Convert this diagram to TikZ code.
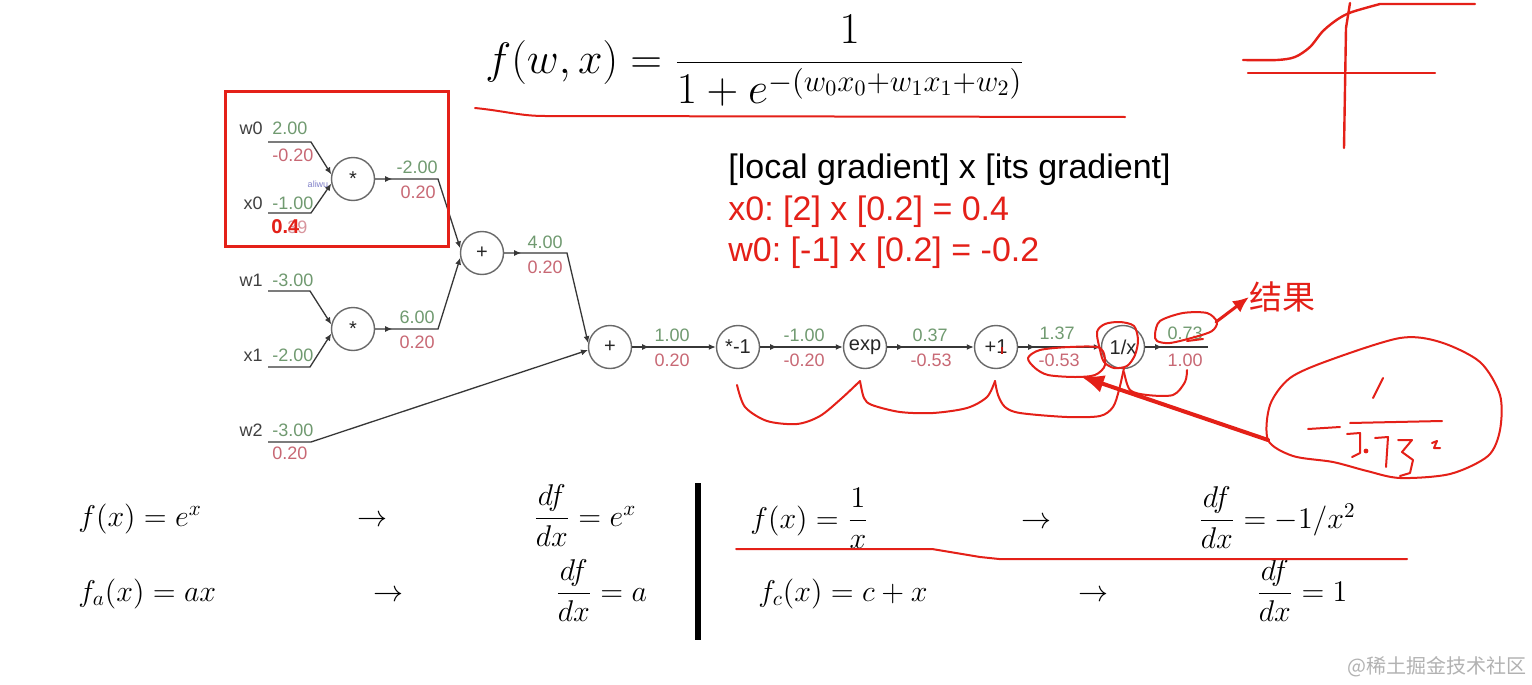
\RequirePackage{fix-cm}
\documentclass[tikz,border=0pt]{standalone}
\usepackage{amsmath}
\usepackage{fontspec}
\setsansfont{Liberation Sans}
\newfontfamily\cjkfont{Noto Sans CJK SC}
\usetikzlibrary{arrows.meta,positioning,decorations.markings}
\frenchspacing
\definecolor{valgreen}{RGB}{112,154,112}
\definecolor{gradred}{RGB}{200,104,116}
\definecolor{penred}{RGB}{228,32,24}
\definecolor{wiregray}{RGB}{55,55,55}
\definecolor{ringgray}{RGB}{105,105,105}
\tikzset{
  >={Latex[length=3.5pt,width=3pt]},
  opnode/.style={circle,draw=ringgray,line width=0.7pt,minimum size=21.5pt,
    inner sep=0pt,font=\sffamily\fontsize{10}{12}\selectfont,text=black!85},
  wire/.style={->,draw=wiregray,line width=0.65pt},
  fwire/.style={wire,postaction={decorate},decoration={markings,
    mark=at position 8.5pt with {\arrow{Latex[length=3.5pt,width=3pt]}}}},
  varlbl/.style={anchor=east,inner sep=0pt,text=black!75,
    font=\sffamily\fontsize{9}{11}\selectfont},
  vallbl/.style={anchor=west,inner sep=0pt,text=valgreen,
    font=\sffamily\fontsize{9}{11}\selectfont},
  gradlbl/.style={anchor=west,inner sep=0pt,text=gradred,
    font=\sffamily\fontsize{9}{11}\selectfont},
  notelbl/.style={anchor=west,inner sep=0pt,font=\sffamily\fontsize{17}{21}\selectfont},
  mathlbl/.style={anchor=base west,inner sep=0pt,font=\fontsize{15}{18}\selectfont},
  pen/.style={draw=penred,line width=1pt,line cap=round,line join=round},
}

\begin{document}
\begin{tikzpicture}[x=0.5pt,y=-0.5pt]
  \fill[white] (0,0) rectangle (1532,685);
  \useasboundingbox (0,0) rectangle (1532,685);

  % sigmoid formula
  \node[anchor=west,inner sep=0pt,font=\fontsize{22}{26}\selectfont] (sigm) at (485,61)
    {$f(w,x)=\dfrac{1}{1+e^{-(w_0x_0+w_1x_1+w_2)}}$};
  \draw[pen] (475,108) .. controls (505,111) and (520,116) .. (545,116) -- (1125,117);

  % sketch of the sigmoid
  \draw[pen,line width=1.2pt] plot[smooth] coordinates {(1243,60) (1277,60) (1295,57)
    (1310,47) (1323,31) (1338,19) (1352,12) (1380,4)} -- (1475,4);
  \draw[pen,line width=1.2pt] (1248,73) -- (1435,73);
  \draw[pen,line width=1.2pt] (1350,3) -- (1346,28) -- (1344,148);

  % operation nodes
  \node[opnode] (mul0) at (353,179) {*};
  \node[opnode] (mul1) at (353,329) {*};
  \node[opnode] (add0) at (482,253) {+};
  \node[opnode] (add1) at (610,347) {+};
  \node[opnode] (neg)  at (738,347) {*-1};
  \node[opnode] (expn) at (865,347) {exp};
  \node[opnode] (inc)  at (996,347) {+1};
  \node[opnode] (inv)  at (1123,347) {1/x};
  \fill[penred!85!black] (1000.5,347) rectangle (1002.5,354);

  % input stubs and corners
  \coordinate (w0s) at (268,142); \coordinate (w0c) at (311,142);
  \coordinate (x0s) at (268,213); \coordinate (x0c) at (311,213);
  \coordinate (w1s) at (268,291); \coordinate (w1c) at (310,291);
  \coordinate (x1s) at (268,367); \coordinate (x1c) at (310,367);
  \coordinate (w2s) at (268,442); \coordinate (w2c) at (311,442);
  \coordinate (m0c) at (438,179);
  \coordinate (m1c) at (438,329);
  \coordinate (a0c) at (567,253);
  \coordinate (outc) at (1208,347);

  \draw[wire] (w0s) -- (w0c) -- (mul0.168);
  \draw[wire] (x0s) -- (x0c) -- (mul0.192);
  \draw[wire] (w1s) -- (w1c) -- (mul1.168);
  \draw[wire] (x1s) -- (x1c) -- (mul1.192);
  \draw[wire] (w2s) -- (w2c) -- (add1.188);
  \draw[fwire] (mul0) -- (m0c) -- (add0.168);
  \draw[fwire] (mul1) -- (m1c) -- (add0.192);
  \draw[fwire] (add0) -- (a0c) -- (add1.170);
  \draw[fwire] (add1) -- (neg);
  \draw[fwire] (neg) -- (expn);
  \draw[fwire] (expn) -- (inc);
  \draw[fwire] (inc) -- (inv);
  \draw[fwire,-] (inv) -- (outc);

  % inputs
  \node[varlbl] (w0n) at (263,128) {w0};
  \node[vallbl] (w0v) at (272,128) {2.00};
  \node[gradlbl] (w0g) at (272,155) {-0.20};
  \node[varlbl] (x0n) at (263,203) {x0};
  \node[vallbl] (x0v) at (272,203) {-1.00};
  \node[gradlbl,opacity=0.7] (x0g) at (272,227) {0.39};
  \node[gradlbl,text=penred,font=\sffamily\bfseries\fontsize{10}{12}\selectfont]
    (x0fix) at (271,227) {0.4};
  \node[text=blue!40!gray!70,inner sep=0pt,font=\sffamily\fontsize{4.5}{5}\selectfont]
    (aliw) at (318,184) {aliwu};
  \node[varlbl] (w1n) at (263,280) {w1};
  \node[vallbl] (w1v) at (272,280) {-3.00};
  \node[varlbl] (x1n) at (263,355) {x1};
  \node[vallbl] (x1v) at (272,355) {-2.00};
  \node[varlbl] (w2n) at (263,430) {w2};
  \node[vallbl] (w2v) at (272,430) {-3.00};
  \node[gradlbl] (w2g) at (272,453) {0.20};

  % values on the wires
  \node[vallbl,anchor=east] (m0v) at (438,167) {-2.00};
  \node[gradlbl,anchor=east] (m0g) at (436,192) {0.20};
  \node[vallbl,anchor=east] (m1v) at (435,317) {6.00};
  \node[gradlbl,anchor=east] (m1g) at (435,342) {0.20};
  \node[vallbl,anchor=east] (a0v) at (563,242) {4.00};
  \node[gradlbl,anchor=east] (a0g) at (563,267) {0.20};
  \node[vallbl,anchor=east] (a1v) at (690,335) {1.00};
  \node[gradlbl,anchor=east] (a1g) at (690,360) {0.20};
  \node[vallbl,anchor=east] (ngv) at (825,335) {-1.00};
  \node[gradlbl,anchor=east] (ngg) at (825,360) {-0.20};
  \node[vallbl,anchor=east] (exv) at (948,335) {0.37};
  \node[gradlbl,anchor=east] (exg) at (952,360) {-0.53};
  \node[vallbl,anchor=east] (icv) at (1075,333) {1.37};
  \node[gradlbl,anchor=east] (icg) at (1080,360) {-0.53};
  \node[vallbl,anchor=east] (ivv) at (1203,333) {0.73};
  \node[gradlbl,anchor=east] (ivg) at (1203,360) {1.00};

  % red box round w0, x0
  \draw[draw=penred,line width=1.5pt] (225,91) rectangle (448,246);

  % chain rule note
  \node[notelbl] (rule) at (728,170) {[local gradient] x [its gradient]};
  \node[notelbl,text=penred] (x0rule) at (728,212) {x0: [2] x [0.2] = 0.4};
  \node[notelbl,text=penred] (w0rule) at (728,253) {w0: [-1] x [0.2] = -0.2};

  % pen marks on the chain
  \draw[pen] plot[smooth] coordinates {(737,385) (745,407) (767,421) (797,424)
    (820,416) (842,398) (860,381)};
  \draw[pen] plot[smooth] coordinates {(860,381) (864,398) (872,405) (900,412)
    (933,413) (967,408) (987,397) (995,381)};
  \draw[pen] plot[smooth] coordinates {(995,381) (998,395) (1005,407) (1020,413)
    (1067,417) (1100,416) (1113,407) (1119,390) (1124,368)};
  \draw[pen] plot[smooth] coordinates {(1124,372) (1130,390) (1147,395) (1173,395)
    (1185,382) (1187,370)};
  \draw[pen] plot[smooth cycle] coordinates {(1097,332) (1105,324) (1120,322) (1134,326)
    (1138,340) (1135,355) (1127,366) (1114,368) (1104,362) (1100,350)};
  \draw[pen] plot[smooth cycle] coordinates {(1100,348) (1070,347) (1040,350) (1028,358)
    (1035,368) (1048,375) (1075,377) (1095,375) (1105,365)};
  \draw[pen] plot[smooth cycle] coordinates {(1155,334) (1160,321) (1183,313) (1207,313)
    (1217,322) (1212,331) (1195,337) (1170,343) (1157,341)};
  \draw[pen] (1187,341) -- (1203,339);

  % result label
  \node[anchor=west,inner sep=0pt,text=penred,font=\cjkfont\fontsize{16.5}{20}\selectfont]
    (result) at (1249,297) {结果};
  \coordinate (tail73) at (1216,322);
  \draw[pen,line width=1.5pt,-{Latex[length=8pt,width=7pt]}] (tail73) -- (result.west);

  % handwritten -1/1.37^2
  \draw[pen] plot[smooth cycle] coordinates {(1268,440) (1270,405) (1290,378) (1330,360)
    (1400,338) (1440,342) (1480,362) (1500,395) (1500,430) (1488,456) (1450,474)
    (1400,478) (1367,471) (1333,462) (1293,456)};
  \draw[pen] (1308,429) -- (1340,427);
  \draw[pen] (1350,423) -- (1442,421);
  \draw[pen] (1373,398) -- (1383,378);
  \draw[pen] (1347,434) -- (1360,433) -- (1360,453) -- (1352,457);
  \fill[penred] (1366,451) circle (1.2pt);
  \draw[pen] (1375,438) -- (1388,437) -- (1386,467);
  \draw[pen] (1398,440) -- (1412,440) -- (1402,452) -- (1413,460) -- (1410,473) -- (1400,476);
  \draw[pen] (1432,443) -- (1437,441) -- (1434,448) -- (1440,448);
  \coordinate (bigtail) at (1268,440);
  \coordinate (bighead) at (1080,376);
  \draw[pen,line width=2pt,-{Latex[length=12pt,width=9pt]}] (bigtail) -- (bighead);

  % derivative table
  \node[mathlbl] (fexp) at (78,526) {$f(x)=e^x$};
  \node[mathlbl] (arr1) at (357,526) {$\rightarrow$};
  \node[mathlbl] (dexp) at (533,526) {$\dfrac{df}{dx}=e^x$};
  \node[mathlbl] (flin) at (78,601) {$f_a(x)=ax$};
  \node[mathlbl] (arr2) at (373,601) {$\rightarrow$};
  \node[mathlbl] (dlin) at (555,601) {$\dfrac{df}{dx}=a$};
  \draw[line width=3.2pt] (698,483) -- (698,640);
  \node[mathlbl] (finv) at (750,528) {$f(x)=\dfrac{1}{x}$};
  \node[mathlbl] (arr3) at (1021,528) {$\rightarrow$};
  \node[mathlbl] (dinv) at (1198,528) {$\dfrac{df}{dx}=-1/x^2$};
  \node[mathlbl] (fadd) at (758,601) {$f_c(x)=c+x$};
  \node[mathlbl] (arr4) at (1078,601) {$\rightarrow$};
  \node[mathlbl] (dadd) at (1256,601) {$\dfrac{df}{dx}=1$};
  \draw[pen] (736,549) -- (932,549) -- (980,557) -- (999,559) -- (1407,559);

  % watermark
  \node[anchor=east,inner sep=0pt,text=black!30,font=\cjkfont\fontsize{10}{12}\selectfont]
    (wmark) at (1527,667) {@稀土掘金技术社区};
\end{tikzpicture}
\end{document}
